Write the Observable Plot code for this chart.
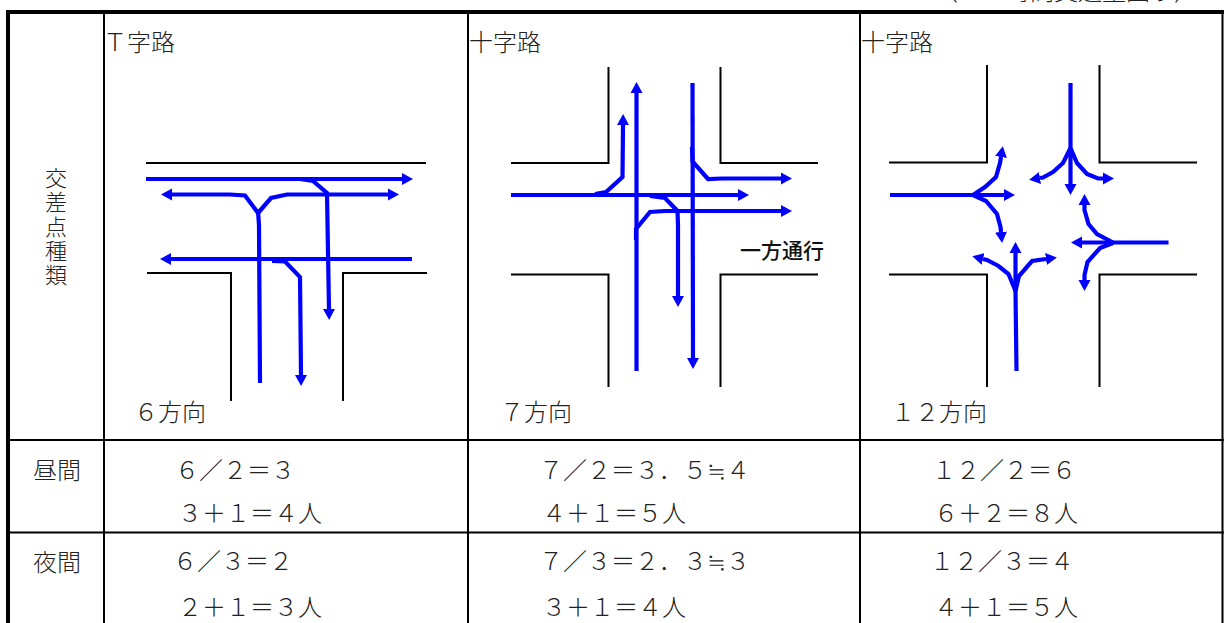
<!DOCTYPE html>
<html lang="ja">
<head>
<meta charset="utf-8">
<style>html,body{margin:0;padding:0;background:#fff}svg{display:block}</style>
<script src="https://cdn.jsdelivr.net/npm/d3@7"></script>
<script src="https://cdn.jsdelivr.net/npm/@observablehq/plot@0.6"></script>
</head>
<body>
<div id="chart"></div>
<script>
// Table rules
const thickRules = [[[8,623],[8,12],[1224,12]]];
const thinRules = [
  [[104,14],[104,623]],[[468,14],[468,623]],[[860,14],[860,623]],[[1222.5,14],[1222.5,623]],
  [[10,440],[1224,440]],[[10,532.5],[1224,532.5]]
];
// Road kerbs
const roads = [
  [[146,163],[426,163]],
  [[147,273],[231,273],[231,401]],
  [[343,401],[343,273],[427,273]],
  [[511,163],[608.5,163],[608.5,67]],
  [[720.5,67],[720.5,163],[818,163]],
  [[511,274.5],[608.5,274.5],[608.5,387]],
  [[720.5,387],[720.5,274.5],[818,274.5]],
  [[889,162.5],[987,162.5],[987,65]],
  [[1099.5,65],[1099.5,162.5],[1197,162.5]],
  [[889,274.5],[987,274.5],[987,387]],
  [[1099.5,387],[1099.5,274.5],[1197,274.5]]
];
// Traffic stem without an arrowhead
const stems = [
  [[260,383],[259,225],[258,211]]
];
// Traffic flows with an arrowhead at the end
const arrows = [
  // T junction
  [[146,179],[402,179]],
  [[300,179],[313,181],[327,193],[329,309]],
  [[258,213],[245,195.5],[230,194.5],[172,194.5]],
  [[258,213],[271,198],[287,194.5],[388,194.5]],
  [[412,259],[171,259]],
  [[272,261],[285,261.5],[300,277],[301,375]],
  // one-way crossroads
  [[511,195],[738,195]],
  [[595,194],[606,192],[622.5,177],[623,125]],
  [[636.5,371],[636.5,93]],
  [[692.5,83],[693,358]],
  [[692,147],[692.5,161.5],[708,179],[722,178.5],[781,178.5]],
  [[636,240],[636,229],[650,212],[665,211],[781,211]],
  [[650,196],[665,198],[677.5,211],[678,225],[678,296]],
  // twelve directions
  [[890,195],[1004,195]],
  [[973,195],[985,187],[996,177],[1000,163],[1001,157]],
  [[973,195],[986,201],[997,214],[1000.5,227],[1001,232]],
  [[1070.5,83],[1070.5,184]],
  [[1070.5,148],[1063,163],[1053,172],[1043,177.5],[1040,178]],
  [[1070.5,148],[1077,163],[1087,174],[1098,178.5],[1103,178.5]],
  [[1168.5,242.5],[1082,242.5]],
  [[1113,242.5],[1097,234],[1088.5,224],[1084.5,210],[1084.5,205]],
  [[1113,243],[1100,248],[1087.5,262],[1084.5,275],[1084.5,280]],
  [[1016.5,371],[1015.5,291],[1015.5,253]],
  [[1015.5,291],[1008.5,274],[998.5,266],[987,260],[983,259]],
  [[1015.5,291],[1019,276],[1032,261],[1046,259]]
];
// Text rows: label, x, y
const labels = ["Ｔ字路","十字路","十字路","６方向","７方向","１２方向",
  "昼間","夜間",
  "６／２＝３","３＋１＝４人","６／３＝２","２＋１＝３人",
  "７／２＝３．５≒４","４＋１＝５人","７／３＝２．３≒３","３＋１＝４人",
  "１２／２＝６","６＋２＝８人","１２／３＝４","４＋１＝５人",
  "（１２時間交通量図り）"];
const labelX = [103,469,861,134,500,891,
  33,33,
  175,178,173,178,
  539,542,539,542,
  932,934,930,934,
  934];
const labelY = [43,43,43,413,413,413,
  471,563,
  471,514,562,608,
  471,514,562,608,
  471,514,562,608,
  -8];
const sideChars = ["交","差","点","種","類"];
const sideY = [179,203,228,252,276];
const oneWay = {text:"一方通行", x:740, y:251};

const lineRows = (paths) => paths.flatMap((p,i) => p.map(([x,y]) => ({x,y,i})));
const labelRows = labels.map((t,i) => ({t,x:labelX[i],y:labelY[i]}));
const sideRows = sideChars.map((t,i) => ({t,y:sideY[i]}));
const FONT = '"Liberation Serif","Noto Sans CJK JP",serif';
const SANS = '"Noto Sans CJK JP",sans-serif';

function head(color){
  const m = document.createElementNS("http://www.w3.org/2000/svg","marker");
  m.setAttribute("viewBox","0 -6.5 12 13");
  m.setAttribute("markerWidth","12");
  m.setAttribute("markerHeight","13");
  m.setAttribute("markerUnits","userSpaceOnUse");
  m.setAttribute("refX","0");
  m.setAttribute("refY","0");
  m.setAttribute("orient","auto");
  const p = document.createElementNS("http://www.w3.org/2000/svg","path");
  p.setAttribute("d","M0,-6L11,0L0,6Z");
  p.setAttribute("fill",color);
  p.setAttribute("stroke","none");
  m.appendChild(p);
  return m;
}

const blackLine = (paths, w) => Plot.line(lineRows(paths), {
  x:"x", y:"y", z:"i", stroke:"#000", strokeWidth:w,
  strokeLinecap:"butt", strokeLinejoin:"miter", strokeMiterlimit:4
});

const chart = Plot.plot({
  width:1224, height:623,
  margin:0, marginTop:0, marginRight:0, marginBottom:0, marginLeft:0,
  x:{domain:[0,1224], range:[-0.5,1223.5], axis:null},
  y:{domain:[0,623], range:[-0.5,622.5], axis:null},
  style:{background:"#fff"},
  marks:[
    blackLine(thinRules,2),
    blackLine(thickRules,4),
    blackLine(roads,2),
    Plot.line(lineRows(stems), {
      x:"x", y:"y", z:"i", stroke:"#0000ff", strokeWidth:4.2,
      strokeLinecap:"butt", strokeLinejoin:"miter", strokeMiterlimit:3
    }),
    Plot.line(lineRows(arrows), {
      x:"x", y:"y", z:"i", stroke:"#0000ff", strokeWidth:4.2,
      strokeLinecap:"butt", strokeLinejoin:"miter", strokeMiterlimit:3,
      markerEnd:head
    }),
    Plot.text(labelRows, {x:"x", y:"y", text:"t", textAnchor:"start", lineAnchor:"middle",
      fontSize:24, fontFamily:FONT, fontWeight:300, fill:"#222"}),
    Plot.text(sideRows, {x:()=>56, y:"y", text:"t", textAnchor:"middle", lineAnchor:"middle",
      fontSize:22, fontFamily:FONT, fontWeight:300, fill:"#222"}),
    Plot.text([oneWay], {x:"x", y:"y", text:"text", textAnchor:"start", lineAnchor:"middle",
      fontSize:21, fontFamily:SANS, fontWeight:500, fill:"#111"})
  ]
});
document.getElementById("chart").appendChild(chart);
</script>
</body>
</html>
